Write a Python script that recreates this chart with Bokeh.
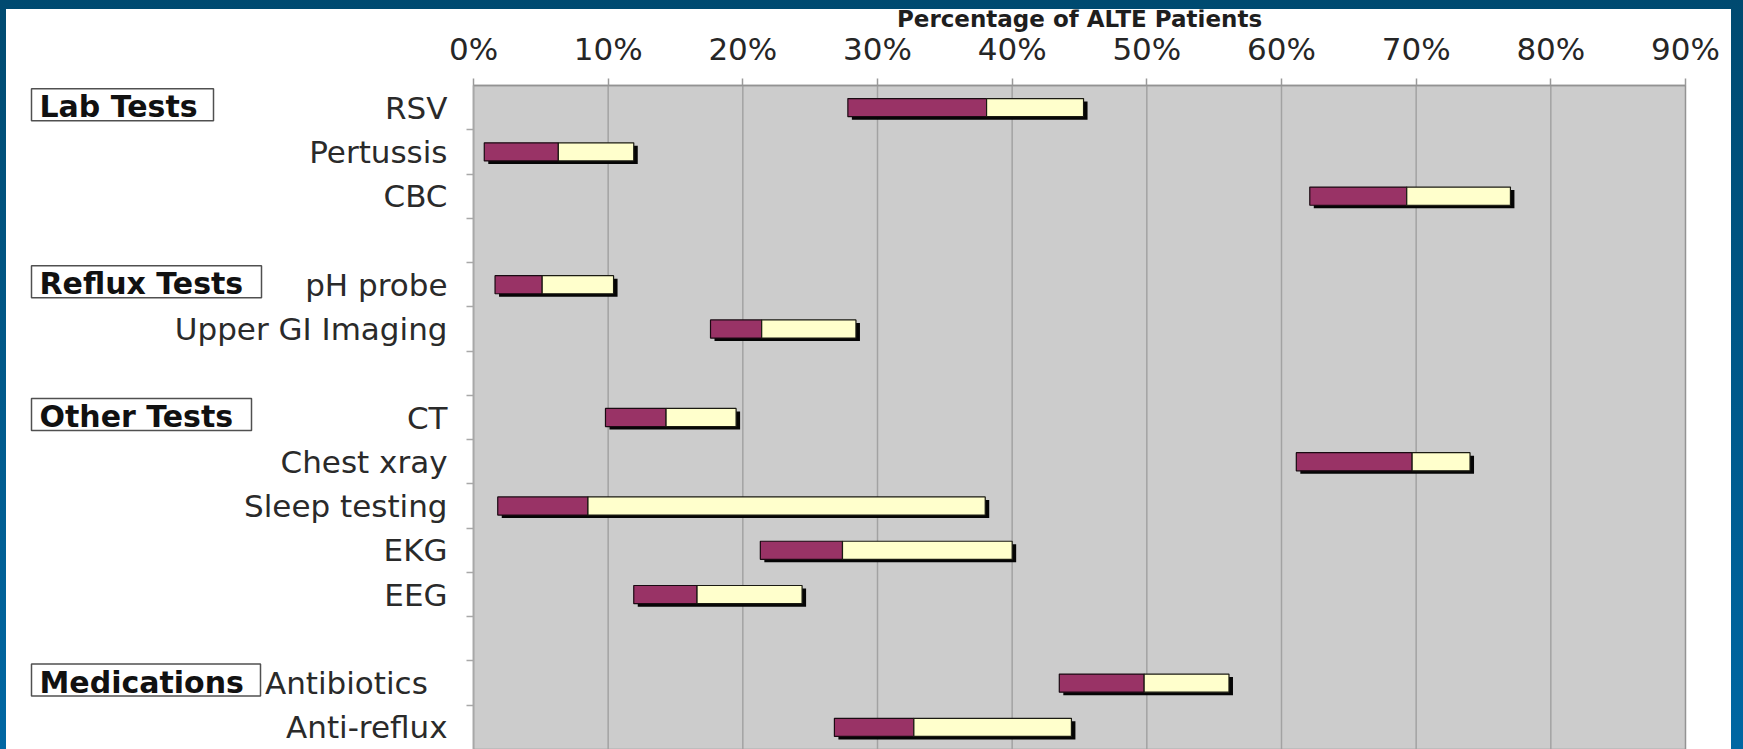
from bokeh.plotting import figure
from bokeh.models import Range1d, FixedTicker, PrintfTickFormatter, ColumnDataSource
from bokeh.core.properties import value
from bokeh.layouts import column
from bokeh.embed import file_html
from bokeh.resources import INLINE

# Tests / treatments and the group each belongs to
groups = ["Lab Tests", "Reflux Tests", "Other Tests", "Medications"]
items = ["RSV", "Pertussis", "CBC",
         "pH probe", "Upper GI Imaging",
         "CT", "Chest xray", "Sleep testing", "EKG", "EEG",
         "Antibiotics\u00a0\u00a0", "Anti-reflux"]
item_group = [0, 0, 0, 1, 1, 2, 2, 2, 2, 2, 3, 3]

# Percentage of ALTE patients: range start, middle, range end
low = [27.8, 0.8, 62.1, 1.6, 17.6, 9.8, 61.1, 1.8, 21.3, 11.9, 43.5, 26.8]
mid = [38.1, 6.3, 69.3, 5.1, 21.4, 14.3, 69.7, 8.5, 27.4, 16.6, 49.8, 32.7]
high = [45.3, 11.9, 77.0, 10.4, 28.4, 19.5, 74.0, 38.0, 40.0, 24.4, 56.1, 44.4]

x_ticks = [0, 10, 20, 30, 40, 50, 60, 70, 80, 90]
x_title = "Percentage of ALTE Patients"

FONT = "DejaVu Sans"
MAROON = "#993366"
CREAM = "#ffffcc"

# one row per item, with an empty row between groups
rows = []
prev = None
for name, g in zip(items, item_group):
    if prev is not None and g != prev:
        rows.append(None)
    rows.append(name)
    prev = g
n_rows = len(rows)
row_y = {name: n_rows - i - 0.5 for i, name in enumerate(rows) if name is not None}
ys = [row_y[n] for n in items]

# page geometry (pixels)
W, H = 1743, 749
FRAME_L, FRAME_T, FRAME_R = 6, 9, 1731   # white drawing area
AREA_L, AREA_R, AREA_T = 473, 1685, 85   # grey plotting area, 0% .. 90%
x0, x1 = x_ticks[0], x_ticks[-1]
px_per_x = (AREA_R - AREA_L) / (x1 - x0)
px_per_y = (H - AREA_T) / n_rows
x_start = x0 - (AREA_L - FRAME_L) / px_per_x
x_end = x1 + (FRAME_R - AREA_R) / px_per_x
y_end = n_rows + (AREA_T - FRAME_T) / px_per_y

def px_x(px):
    return x0 + (px - AREA_L) / px_per_x

def px_y(py):
    return n_rows - (py - AREA_T) / px_per_y

p = figure(width=W, height=H,
           x_range=Range1d(x_start, x_end), y_range=Range1d(0, y_end),
           x_axis_location="above",
           output_backend="svg", toolbar_location=None,
           min_border_left=FRAME_L, min_border_top=FRAME_T,
           min_border_right=W - FRAME_R, min_border_bottom=0,
           background_fill_alpha=0, border_fill_alpha=0,
           outline_line_color=None)

# grey plotting area with vertical gridlines at the percentage ticks
p.quad(left=[x0], right=[x1], bottom=[0], top=[n_rows],
       fill_color="#cccccc", line_color="#939393", line_width=1.5)
p.segment(x0=x_ticks[1:-1], y0=[0] * (len(x_ticks) - 2),
          x1=x_ticks[1:-1], y1=[n_rows] * (len(x_ticks) - 2),
          line_color="#a2a2a2", line_width=1.5)
p.xgrid.grid_line_color = None
p.ygrid.grid_line_color = None

# drop shadow, then the two segments of each bar
dx, dy = 4 / px_per_x, 3 / px_per_y
bar_h = 0.41
shadow = ColumnDataSource(dict(y=[y - dy for y in ys],
                               left=[v + dx for v in low],
                               right=[v + dx for v in high]))
p.hbar(y="y", left="left", right="right", height=bar_h, source=shadow,
       fill_color="#050505", line_color=None)
src = ColumnDataSource(dict(y=ys, low=low, mid=mid, high=high))
p.hbar(y="y", left="low", right="mid", height=bar_h, source=src,
       fill_color=MAROON, line_color="#1a0a12", line_width=1.2)
p.hbar(y="y", left="mid", right="high", height=bar_h, source=src,
       fill_color=CREAM, line_color="#1a1a12", line_width=1.2)

# percentage axis along the top edge of the grey area
xa = p.xaxis[0]
xa.fixed_location = n_rows
xa.bounds = (x0, x1)
xa.ticker = FixedTicker(ticks=x_ticks)
xa.formatter = PrintfTickFormatter(format="%d%%")
xa.major_label_text_font = FONT
xa.major_label_text_font_size = "31px"
xa.major_label_text_color = "#262626"
xa.major_label_standoff = 12
xa.axis_line_color = "#939393"
xa.axis_line_width = 1.5
xa.major_tick_line_color = "#9a9a9a"
xa.major_tick_line_width = 1.5
xa.major_tick_out = 7
xa.major_tick_in = 0
xa.minor_tick_line_color = None

# axis title centred over the grey area
p.text(x=[(x0 + x1) / 2], y=[px_y(18)], text=[x_title],
       text_font=value(FONT), text_font_style="bold", text_font_size="23px",
       text_color="#1e1e1e", text_align="center", text_baseline="middle")

# item axis on the left edge of the grey area: names at row centres,
# small ticks between rows
ya = p.yaxis[0]
ya.fixed_location = x0
ya.bounds = (0, n_rows)
ya.ticker = FixedTicker(ticks=ys, minor_ticks=list(range(1, n_rows)))
ya.major_label_overrides = {y: n for y, n in zip(ys, items)}
ya.major_label_text_font = FONT
ya.major_label_text_font_size = "31px"
ya.major_label_text_color = "#2a2a2a"
ya.major_label_standoff = 19
ya.major_tick_out = 0
ya.major_tick_in = 0
ya.major_tick_line_color = None
ya.minor_tick_out = 7
ya.minor_tick_in = 0
ya.minor_tick_line_color = "#a8a8a8"
ya.minor_tick_line_width = 1.5
ya.axis_line_color = "#a8a8a8"
ya.axis_line_width = 1.5

# boxed group headings beside the first row of each group
HEAD_L = 31                          # box left edge, px
head_box_w = [182, 230, 220, 229]    # box widths, px
HEAD_BOX_H = 32                      # box height, px
HEAD_RAISE = 3                       # px above the row centre
firsts = [items[item_group.index(gi)] for gi in range(len(groups))]
head_y = [row_y[f] + HEAD_RAISE / px_per_y for f in firsts]
p.quad(left=[px_x(HEAD_L)] * len(groups),
       right=[px_x(HEAD_L + w) for w in head_box_w],
       bottom=[y - HEAD_BOX_H / 2 / px_per_y for y in head_y],
       top=[y + HEAD_BOX_H / 2 / px_per_y for y in head_y],
       fill_color="white", line_color="#505050", line_width=1.5)
p.text(x=[px_x(HEAD_L + 8)] * len(groups), y=head_y, text=groups,
       text_font=value(FONT), text_font_style="bold", text_font_size="30px",
       text_color="#111111", text_align="left", text_baseline="middle",
       y_offset=2)

page = column(p, styles={
    "background": "linear-gradient(#ffffff, #ffffff) 6px 9px / 1725px 740px no-repeat, "
                  "linear-gradient(180deg, #004a70 0%, #0067a3 100%)"})

open("out.html", "w").write(file_html(page, INLINE))
